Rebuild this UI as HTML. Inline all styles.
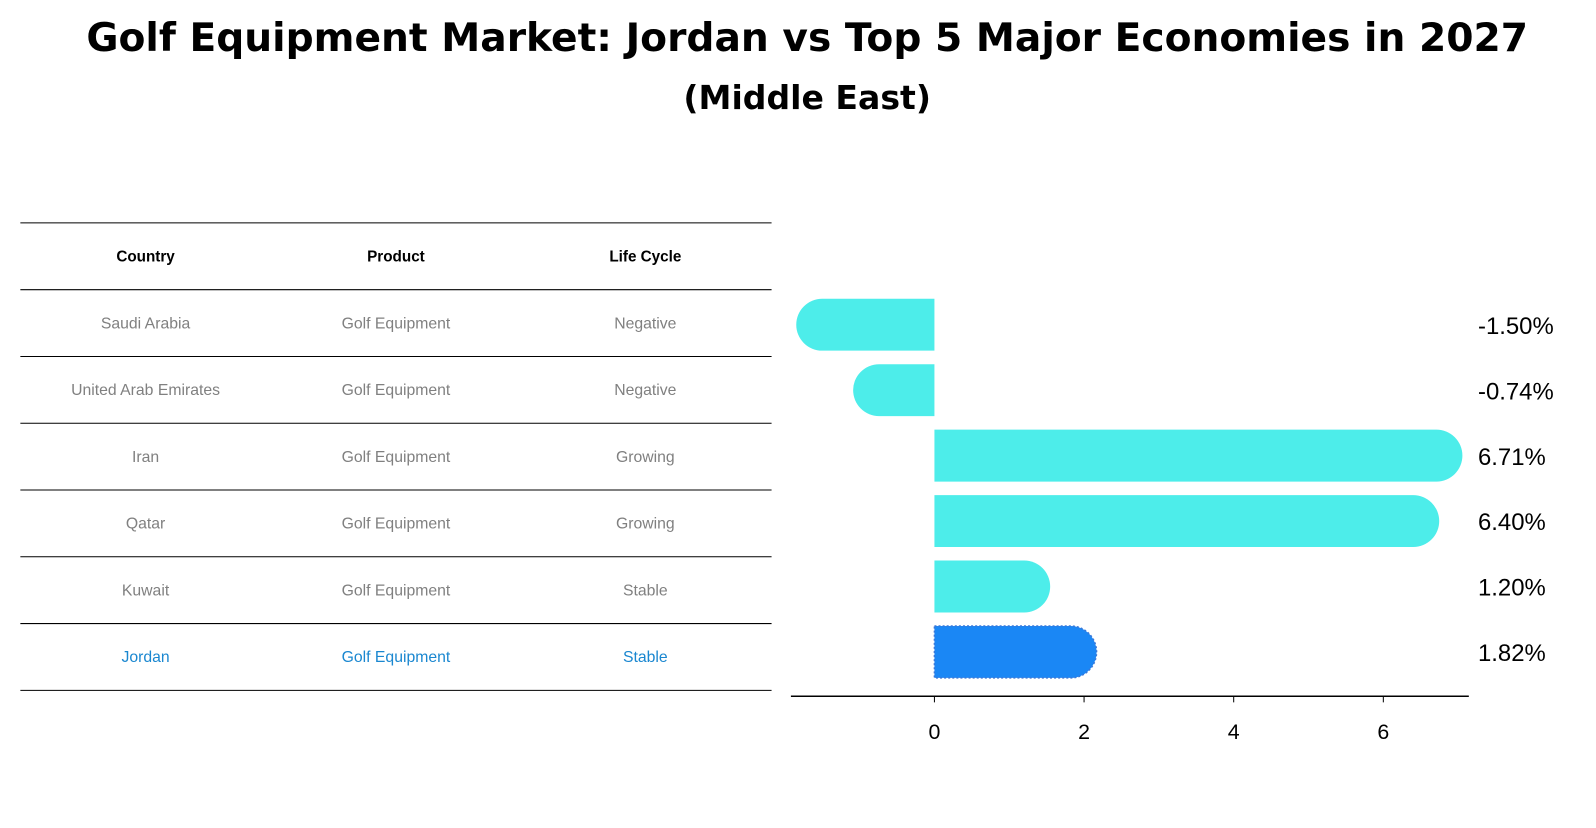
<!DOCTYPE html>
<html><head><meta charset="utf-8"><style>
body{margin:0;background:#fff;font-family:"Liberation Sans","DejaVu Sans",sans-serif}
</style></head><body>
<svg width="1596" height="823" xmlns="http://www.w3.org/2000/svg" font-family="DejaVu Sans, Liberation Sans, sans-serif">
<g transform="scale(1.0179)">
<text x="793" y="50" text-anchor="middle" font-size="38.5" font-weight="bold">Golf Equipment Market: Jordan vs Top 5 Major Economies in 2027</text>
<text x="793" y="107" text-anchor="middle" font-size="32.5" font-weight="bold">(Middle East)</text>
<g id="table"></g>
<g id="bars"></g>
</g>
</svg>
<script>
const countries=["Saudi Arabia","United Arab Emirates","Iran","Qatar","Kuwait","Jordan"];
const products=["Golf Equipment","Golf Equipment","Golf Equipment","Golf Equipment","Golf Equipment","Golf Equipment"];
const lifecycles=["Negative","Negative","Growing","Growing","Stable","Stable"];
const values=[-1.50,-0.74,6.71,6.40,1.20,1.82];
const xTicks=[0,2,4,6];
const NS="http://www.w3.org/2000/svg";
function mk(tag,attrs,parent){const e=document.createElementNS(NS,tag);for(const k in attrs)e.setAttribute(k,attrs[k]);parent.appendChild(e);return e;}
const tbl=document.getElementById('table');
const rowY=i=>219+65.6*i;
for(let i=0;i<=7;i++){const l=mk('line',{x1:20,x2:758,y1:rowY(i),y2:rowY(i),stroke:'#000','stroke-width':1},tbl);

}
const colX=[143,389,634];
["Country","Product","Life Cycle"].forEach((h,j)=>{const t=mk('text',{x:colX[j],y:rowY(0)+38,'text-anchor':'middle','font-size':15,'font-weight':'bold','font-family':'Liberation Sans, sans-serif'},tbl);t.textContent=h;

});
countries.forEach((c,i)=>{const col=i===countries.length-1?'#1a87d0':'#808080';
[c,products[i],lifecycles[i]].forEach((v,j)=>{const t=mk('text',{x:colX[j],y:rowY(i+1)+38,'text-anchor':'middle','font-size':15.5,fill:col,'font-family':'Liberation Sans, sans-serif'},tbl);t.textContent=v;

});});
const bars=document.getElementById('bars');
const x0=918,ppu=73.5;const xs=v=>x0+v*ppu;
const yc=i=>319+64.3*i;const bh=51,r=25.5;
values.forEach((v,i)=>{const isJ=i===values.length-1;const fill=isJ?'#1a87f5':'#4dedea';
const a=xs(0),b=xs(v);const top=yc(i)-bh/2;let d;
if(v>=0){d=`M${a},${top} H${b} A${r},${r} 0 0 1 ${b},${top+bh} H${a} Z`;}
else{d=`M${a},${top} H${b} A${r},${r} 0 0 0 ${b},${top+bh} H${a} Z`;}
const p=mk('path',{d:d,fill:fill},bars);
if(isJ){p.setAttribute('stroke','#3a78d8');p.setAttribute('stroke-dasharray','2,2');p.setAttribute('stroke-width','1.5');}


const t=mk('text',{x:1452,y:yc(i)+9,'font-size':23.5,'font-family':'Liberation Sans, sans-serif'},bars);t.textContent=v.toFixed(2)+'%';

});
const ax=mk('line',{x1:777,x2:1443,y1:684,y2:684,stroke:'#000','stroke-width':1.5},bars);


xTicks.forEach(tv=>{const tk=mk('line',{x1:xs(tv),x2:xs(tv),y1:684,y2:690,stroke:'#000'},bars);


const t=mk('text',{x:xs(tv),y:726,'text-anchor':'middle','font-size':21,'font-family':'Liberation Sans, sans-serif'},bars);t.textContent=tv;

});
</script>
</body></html>
